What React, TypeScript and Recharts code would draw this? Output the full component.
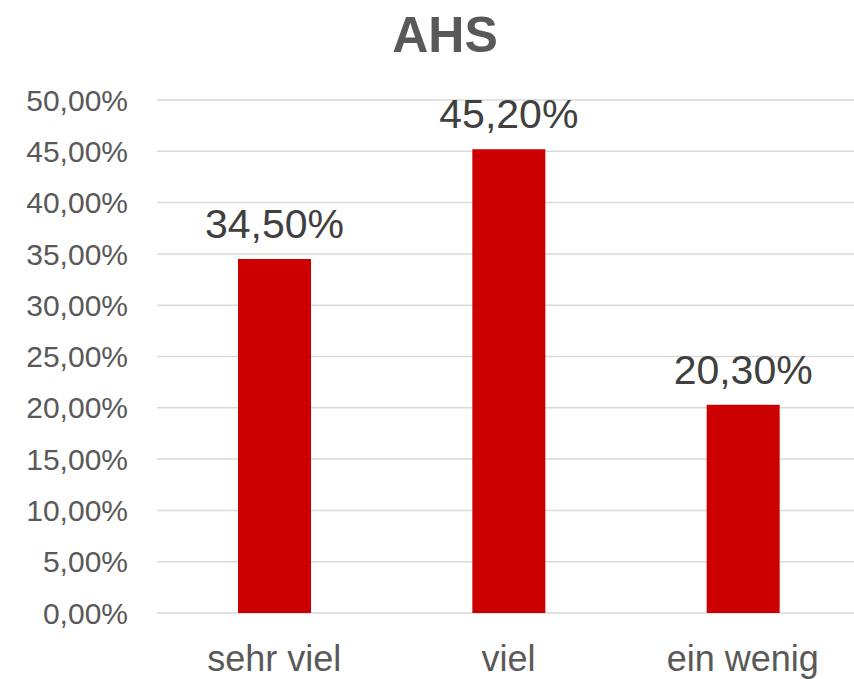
import { BarChart, Bar, XAxis, YAxis, CartesianGrid, LabelList } from "recharts";

const CATEGORIES = ["sehr viel", "viel", "ein wenig"];
const SHARES = [34.5, 45.2, 20.3];
const Y_TICKS = [0, 5, 10, 15, 20, 25, 30, 35, 40, 45, 50];

const FONT = "'Liberation Sans', Arial, Helvetica, sans-serif";
const BAR_RED = "#CC0000";
const AXIS_GREY = "#595959";

const data = CATEGORIES.map((name, i) => ({ name, share: SHARES[i] }));

function pct(v: number): string {
  return v.toFixed(2).replace(".", ",") + "%";
}

export default function App() {
  return (
    <div
      style={{
        position: "absolute",
        left: 0,
        top: 0,
        width: 854,
        height: 679,
        overflow: "hidden",
        background: "#fff",
        fontFamily: FONT,
      }}
    >
      <div
        style={{
          position: "absolute",
          left: 345,
          width: 200,
          top: 10,
          textAlign: "center",
          fontSize: 50,
          lineHeight: "50px",
          fontWeight: 700,
          color: AXIS_GREY,
        }}
      >
        AHS
      </div>
      <BarChart
        width={860}
        height={679}
        data={data}
        margin={{ top: 100, right: 0, bottom: 0, left: 0 }}
        barCategoryGap={0}
      >
        <CartesianGrid
          vertical={false}
          stroke="#D9D9D9"
          strokeWidth={1.5}
        />
        <XAxis
          dataKey="name"
          height={66}
          axisLine={false}
          tickLine={false}
          tickSize={0}
          tickMargin={32}
          tick={{ fill: AXIS_GREY, fontSize: 36, fontFamily: FONT }}
        />
        <YAxis
          width={157}
          domain={[0, 50]}
          ticks={Y_TICKS}
          axisLine={false}
          tickLine={false}
          tickSize={0}
          tickMargin={29}
          tickFormatter={pct}
          tick={{ fill: AXIS_GREY, fontSize: 30, fontFamily: FONT }}
        />
        <Bar dataKey="share" fill={BAR_RED} barSize={73} isAnimationActive={false}>
          <LabelList
            dataKey="share"
            position="top"
            offset={21}
            formatter={(v: unknown) => pct(Number(v))}
            style={{ fill: "#404040", fontSize: 41, fontFamily: FONT }}
          />
        </Bar>
      </BarChart>
    </div>
  );
}
